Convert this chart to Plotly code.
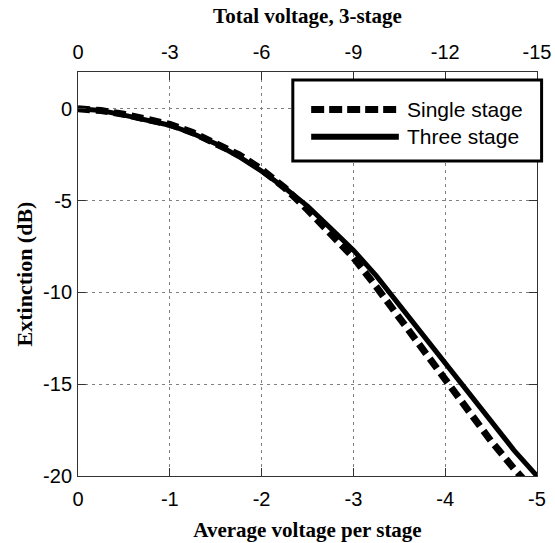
import plotly.graph_objects as go

avg_voltage = [0, -0.25, -0.5, -0.75, -1, -1.25, -1.5, -1.75, -2, -2.25, -2.5,
               -2.75, -3, -3.25, -3.5, -3.75, -4, -4.25, -4.5, -4.75, -5]
single_stage = [0, -0.1, -0.3, -0.55, -0.85, -1.3, -1.85, -2.5, -3.3, -4.3, -5.5,
                -6.8, -8.1, -9.7, -11.4, -13.1, -14.8, -16.5, -18.1, -19.6, -21.0]
three_stage = [0, -0.1, -0.35, -0.6, -0.9, -1.35, -1.9, -2.6, -3.4, -4.3, -5.3,
               -6.5, -7.7, -9.1, -10.7, -12.3, -13.9, -15.4, -17.1, -18.6, -20.0]

bottom_ticks = [0, -1, -2, -3, -4, -5]
top_ticks = [0, -3, -6, -9, -12, -15]
y_ticks = [0, -5, -10, -15, -20]
legend_names = ["Single stage", "Three stage"]

fig = go.Figure()
fig.add_trace(go.Scatter(x=avg_voltage, y=single_stage, mode="lines", name=legend_names[0],
                         line=dict(color="black", width=7, dash="12px,6px"), showlegend=False))
fig.add_trace(go.Scatter(x=avg_voltage, y=three_stage, mode="lines", name=legend_names[1],
                         line=dict(color="black", width=5), showlegend=False))
# invisible trace to activate top axis
fig.add_trace(go.Scatter(x=[top_ticks[0]], y=[y_ticks[0]], xaxis="x2", mode="markers",
                         marker=dict(opacity=0), showlegend=False, hoverinfo="skip"))

tickfont = dict(family="Liberation Sans, Arial", size=20, color="black")
titlefont = dict(family="Liberation Serif, Times New Roman", size=21, color="black", weight="bold")
grid = dict(showgrid=True, gridcolor="#808080", gridwidth=1, griddash="3px,4px")

fig.update_layout(
    width=555, height=543,
    margin=dict(l=78, r=18, t=72, b=67, autoexpand=False),
    paper_bgcolor="white", plot_bgcolor="white",
    xaxis=dict(range=[0, -5], tickvals=bottom_ticks, ticktext=[str(v) for v in bottom_ticks],
               tickfont=tickfont, ticks="inside", ticklen=8, tickcolor="#333",
               ticklabelstandoff=5, automargin=False,
               showline=True, linecolor="#333", linewidth=1, zeroline=False,
               title=dict(text="Average voltage per stage", font=titlefont, standoff=13), **grid),
    xaxis2=dict(range=[0, -15], overlaying="x", side="top", tickvals=top_ticks,
                ticktext=[str(v) for v in top_ticks], tickfont=tickfont, ticks="inside",
                ticklen=8, tickcolor="#333", showline=True, linecolor="#333", linewidth=1,
                ticklabelstandoff=4, automargin=False,
                showgrid=False, zeroline=False,
                title=dict(text="Total voltage, 3-stage", font=titlefont, standoff=11)),
    yaxis=dict(range=[-20, 2], tickvals=y_ticks, ticktext=[str(v) for v in y_ticks],
               tickfont=tickfont, ticks="inside", ticklen=8, tickcolor="#333",
               ticklabelstandoff=1, automargin=False,
               showline=True, linecolor="#333", linewidth=1, mirror="ticks", zeroline=False,
               title=dict(text="Extinction (dB)", font=dict(titlefont, size=22), standoff=4), **grid),
)

# custom legend box
fig.add_shape(type="rect", xref="paper", yref="paper", x0=0.468, x1=1.010, y0=0.78, y1=0.980,
              line=dict(color="black", width=3), fillcolor="white", layer="above")
fig.add_shape(type="line", xref="paper", yref="paper", x0=0.508, x1=0.699, y0=0.907, y1=0.907,
              line=dict(color="black", width=7, dash="13px,5px"), layer="above")
fig.add_shape(type="line", xref="paper", yref="paper", x0=0.508, x1=0.699, y0=0.840, y1=0.840,
              line=dict(color="black", width=6), layer="above")
for name, yy in zip(legend_names, [0.907, 0.840]):
    fig.add_annotation(xref="paper", yref="paper", x=0.712, y=yy, text=name, showarrow=False,
                       xanchor="left", yanchor="middle",
                       font=dict(family="Liberation Sans, Arial", size=21, color="black"))

fig.write_html("out.html")
